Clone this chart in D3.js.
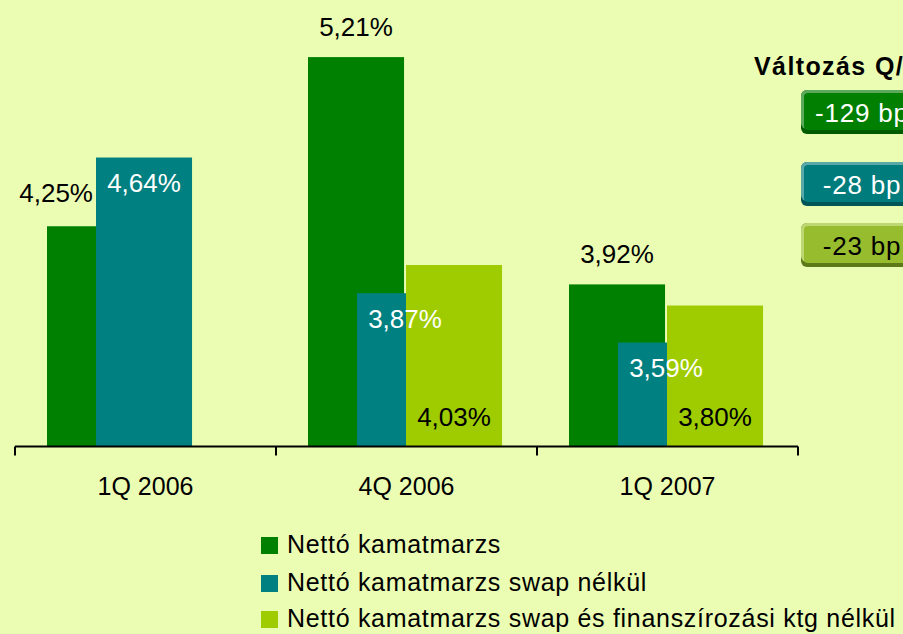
<!DOCTYPE html>
<html>
<head>
<meta charset="utf-8">
<script src="https://cdn.jsdelivr.net/npm/d3@7"></script>
<style>
  html, body { margin: 0; padding: 0; background: #EBFDB3; overflow: hidden; }
  svg { display: block; font-family: "Liberation Sans", Arial, sans-serif; }
</style>
</head>
<body>
<svg id="chart" width="903" height="634"></svg>
<script>
// ---- data ----
const categories = ["1Q 2006", "4Q 2006", "1Q 2007"];
const seriesNames = [
  "Nettó kamatmarzs",
  "Nettó kamatmarzs swap nélkül",
  "Nettó kamatmarzs swap és finanszírozási ktg nélkül"
];
const netMargin      = [4.25, 5.21, 3.92];
const marginNoSwap   = [4.64, 3.87, 3.59];
const marginNoSwapFin = [null, 4.03, 3.80];
const changeTitle = "Változás Q/Q";
const changeLabels = ["-129 bp", "-28 bp", "-23 bp"];

// ---- styles ----
const colors = ["#008000", "#008080", "#9ECC00"];
const boxColors = [
  { main: "#007F00", light: "#5CA85C", dark: "#005A00", text: "#FFFFFF" },
  { main: "#007C7C", light: "#5BA8A8", dark: "#005656", text: "#FFFFFF" },
  { main: "#97BC2E", light: "#BDD873", dark: "#5E7A18", text: "#000000" }
];

const svg = d3.select("#chart");
const series = [netMargin, marginNoSwap, marginNoSwapFin];

const baseY = 446.5;
const y = d3.scaleLinear().domain([3, 5.5]).range([baseY, 6]);
const x = d3.scaleBand().domain(categories).range([15, 798]).padding(0);
const xSub = d3.scaleBand().domain(d3.range(3)).range([32, 32 + 49 * 3]).padding(0);
const barW = xSub.step() * 1.96;

const fmt = v => v.toFixed(2).replace(".", ",") + "%";

// bars
const barData = [];
series.forEach((vals, j) => {
  vals.forEach((v, i) => {
    if (v == null) return;
    barData.push({ cat: categories[i], i, j, v });
  });
});

svg.append("g").selectAll("rect")
  .data(barData)
  .join("rect")
  .attr("x", d => x(d.cat) + xSub(d.j))
  .attr("y", d => y(d.v))
  .attr("width", barW)
  .attr("height", d => baseY - y(d.v))
  .attr("fill", d => colors[d.j]);

// value labels
const lbl = svg.append("g").attr("font-size", 26);
barData.forEach(d => {
  const x0 = x(d.cat) + xSub(d.j);
  const cx = x0 + barW / 2;
  const top = y(d.v);
  if (d.j === 0) {
    const next = series[1][d.i];
    const t = lbl.append("text").text(fmt(d.v)).attr("fill", "#000");
    if (next != null && y(next) < top - 20) {
      // teal bar taller: place label to its left
      t.attr("x", x(d.cat) + xSub(1) - 3).attr("y", top - 24).attr("text-anchor", "end");
    } else {
      t.attr("x", cx).attr("y", top - 21).attr("text-anchor", "middle");
    }
  } else if (d.j === 1) {
    lbl.append("text").text(fmt(d.v)).attr("fill", "#FFFFFF")
      .attr("x", cx).attr("y", top + 34.5).attr("text-anchor", "middle");
  } else {
    lbl.append("text").text(fmt(d.v)).attr("fill", "#000")
      .attr("x", cx).attr("y", baseY - 21).attr("text-anchor", "middle");
  }
});

// x axis
const axisG = svg.append("g").attr("transform", `translate(0,${baseY})`);
const axis = d3.axisBottom(x).tickSize(0).tickPadding(0);
axisG.call(axis);
axisG.select(".domain").attr("d", `M${x.range()[0]},0H${x.range()[1]}`)
  .attr("stroke", "#000").attr("stroke-width", 2);
axisG.selectAll(".tick text")
  .attr("font-size", 25).attr("font-family", "Liberation Sans, Arial, sans-serif")
  .attr("fill", "#000").attr("dy", null).attr("y", 48);
const bounds = categories.map(c => x(c)).concat([x(categories[categories.length - 1]) + x.bandwidth()]);
axisG.selectAll("line.bound").data(bounds).join("line")
  .attr("class", "bound")
  .attr("x1", d => d).attr("x2", d => d)
  .attr("y1", 0).attr("y2", 9)
  .attr("stroke", "#000").attr("stroke-width", 2);

// legend
const leg = svg.append("g");
const legRows = [537, 575, 611];
seriesNames.forEach((name, j) => {
  leg.append("rect").attr("x", 261).attr("y", legRows[j])
    .attr("width", 17).attr("height", 17).attr("fill", colors[j]);
  leg.append("text").attr("x", 287).attr("y", legRows[j] + 16)
    .attr("font-size", 25).attr("letter-spacing", 0.7).attr("fill", "#000").text(name);
});

// change boxes (the reference clips them at the right edge)
svg.append("text").attr("x", 754).attr("y", 75)
  .attr("font-size", 25).attr("font-weight", "bold").attr("letter-spacing", 1.4)
  .attr("fill", "#000").text(changeTitle);

const boxTops = [90, 162, 223];
changeLabels.forEach((t, k) => {
  const c = boxColors[k];
  const top = boxTops[k];
  const g = svg.append("g");
  g.append("rect").attr("x", 801).attr("y", top).attr("width", 140).attr("height", 44)
    .attr("rx", 6).attr("fill", c.dark);
  g.append("rect").attr("x", 801).attr("y", top).attr("width", 140).attr("height", 39)
    .attr("rx", 6).attr("fill", c.light);
  g.append("rect").attr("x", 804).attr("y", top + 3).attr("width", 137).attr("height", 37)
    .attr("rx", 4).attr("fill", c.main);
  g.append("text").attr("x", 862).attr("y", top + 32).attr("text-anchor", "middle")
    .attr("font-size", 26).attr("letter-spacing", 0.8).attr("fill", c.text).text(t);
});
</script>
</body>
</html>
